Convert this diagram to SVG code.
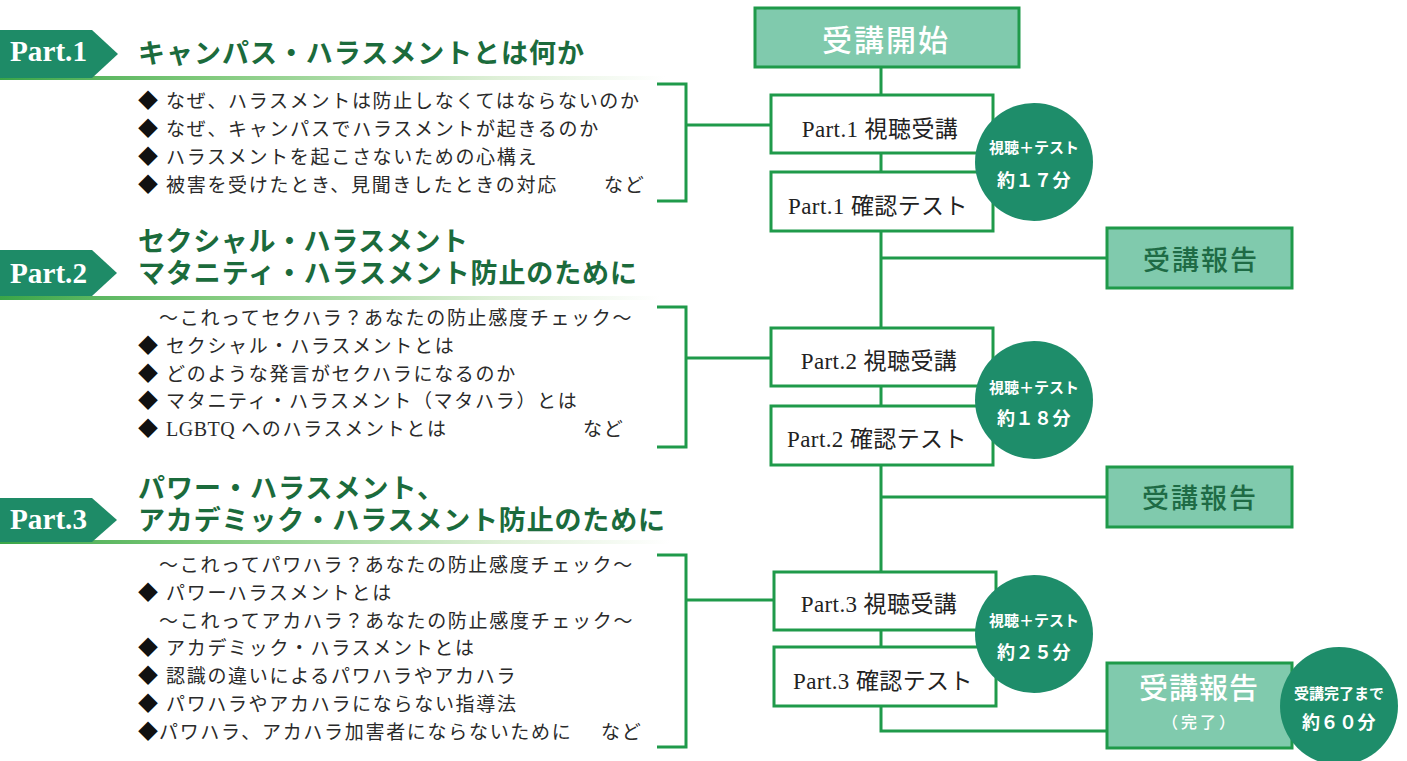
<svg xmlns="http://www.w3.org/2000/svg" width="1407" height="761" viewBox="0 0 1407 761">
<defs>
<linearGradient id="uline" x1="0" y1="0" x2="1" y2="0">
<stop offset="0" stop-color="#3aa548"/>
<stop offset="0.3" stop-color="#7ec97a"/>
<stop offset="0.75" stop-color="#dff0d8"/>
<stop offset="1" stop-color="#ffffff"/>
</linearGradient>
</defs>
<style>
.lbl{fill:#1e8b67}
.lbltx{font-family:"Liberation Serif",serif;font-weight:700;font-size:30px;fill:#fff}
.hd{font-family:"Noto Sans CJK JP",sans-serif;font-weight:700;font-size:27px;fill:#1b6b3c}
.li{font-family:"Noto Sans CJK JP",sans-serif;font-weight:400;font-size:19px;fill:#2a2a2a;letter-spacing:1.7px}
.lat{font-family:"Liberation Serif",serif;font-size:20px;letter-spacing:0.5px}
.dm{font-family:"Noto Sans CJK JP",sans-serif;font-size:20px;fill:#111}
.conn{fill:none;stroke:#1f9a4a;stroke-width:3}
.wbox{fill:#fff;stroke:#1f9a4a;stroke-width:3}
.gbox{fill:#80caad;stroke:#1f9a4a;stroke-width:3}
.btx{font-family:"Liberation Serif","Noto Sans CJK JP",serif;font-size:23px;fill:#222;text-anchor:middle;letter-spacing:0.4px}
.circ{fill:#1e8d6a}
.ct1{font-family:"Noto Sans CJK JP",sans-serif;font-weight:700;font-size:15px;fill:#fff;text-anchor:middle}
.ct2{font-family:"Noto Sans CJK JP",sans-serif;font-weight:700;font-size:18px;fill:#fff;text-anchor:middle;letter-spacing:0.5px}
.gtx{font-family:"Noto Sans CJK JP",sans-serif;font-weight:500;text-anchor:middle}
</style>

<!-- Section headers -->
<g id="part1-header">
<rect x="0" y="76" width="665" height="4" fill="url(#uline)"/>
<polygon class="lbl" points="0,30 92,30 118,54 92,78 0,78"/>
<text class="lbltx" x="10" y="61" textLength="77" lengthAdjust="spacingAndGlyphs">Part.1</text>
<text class="hd" x="138" y="63" textLength="446">キャンパス・ハラスメントとは何か</text>
</g>
<g id="part1-list">
<text class="dm" x="138" y="108">◆</text><text class="li" x="166" y="108">なぜ、ハラスメントは防止しなくてはならないのか</text>
<text class="dm" x="138" y="136">◆</text><text class="li" x="166" y="136">なぜ、キャンパスでハラスメントが起きるのか</text>
<text class="dm" x="138" y="164">◆</text><text class="li" x="166" y="164">ハラスメントを起こさないための心構え</text>
<text class="dm" x="138" y="192">◆</text><text class="li" x="166" y="192">被害を受けたとき、見聞きしたときの対応</text>
<text class="li" x="604" y="192">など</text>
</g>

<g id="part2-header">
<rect x="0" y="296" width="660" height="4" fill="url(#uline)"/>
<polygon class="lbl" points="0,250 92,250 117,273 92,296 0,296"/>
<text class="lbltx" x="10" y="283" textLength="77" lengthAdjust="spacingAndGlyphs">Part.2</text>
<text class="hd"><tspan x="138" y="251" textLength="330">セクシャル・ハラスメント</tspan><tspan x="138" y="283" textLength="499">マタニティ・ハラスメント防止のために</tspan></text>
</g>
<g id="part2-list">
<text class="li" x="159" y="325">〜これってセクハラ？あなたの防止感度チェック〜</text>
<text class="dm" x="138" y="353">◆</text><text class="li" x="166" y="353">セクシャル・ハラスメントとは</text>
<text class="dm" x="138" y="381">◆</text><text class="li" x="166" y="381">どのような発言がセクハラになるのか</text>
<text class="dm" x="138" y="408">◆</text><text class="li" x="166" y="408">マタニティ・ハラスメント（マタハラ）とは</text>
<text class="dm" x="138" y="436">◆</text><text class="li" x="166" y="436"><tspan class="lat">LGBTQ</tspan> へのハラスメントとは</text>
<text class="li" x="583" y="436">など</text>
</g>

<g id="part3-header">
<rect x="0" y="540" width="670" height="4" fill="url(#uline)"/>
<polygon class="lbl" points="0,498 92,498 117,520 92,542 0,542"/>
<text class="lbltx" x="10" y="529" textLength="77" lengthAdjust="spacingAndGlyphs">Part.3</text>
<text class="hd"><tspan x="138" y="498" textLength="306">パワー・ハラスメント、</tspan><tspan x="138" y="530" textLength="527">アカデミック・ハラスメント防止のために</tspan></text>
</g>
<g id="part3-list">
<text class="li" x="159" y="572">〜これってパワハラ？あなたの防止感度チェック〜</text>
<text class="dm" x="138" y="600">◆</text><text class="li" x="166" y="600">パワーハラスメントとは</text>
<text class="li" x="159" y="628">〜これってアカハラ？あなたの防止感度チェック〜</text>
<text class="dm" x="138" y="655">◆</text><text class="li" x="166" y="655">アカデミック・ハラスメントとは</text>
<text class="dm" x="138" y="683">◆</text><text class="li" x="166" y="683">認識の違いによるパワハラやアカハラ</text>
<text class="dm" x="138" y="711">◆</text><text class="li" x="166" y="711">パワハラやアカハラにならない指導法</text>
<text class="dm" x="138" y="739">◆</text><text class="li" x="159" y="739">パワハラ、アカハラ加害者にならないために</text>
<text class="li" x="601" y="739">など</text>
</g>

<!-- Connectors -->
<g id="connectors">
<path class="conn" d="M657 84 H686 V201 H657 M686 125 H771"/>
<path class="conn" d="M657 307 H686 V447 H657 M686 358 H771"/>
<path class="conn" d="M657 555 H686 V747 H657 M686 600 H774"/>
<path class="conn" d="M881 67 V95 M881 153 V172 M881 231 V328 M881 258 H1107 M881 386 V406 M881 465 V572 M881 497 H1107 M881 630 V647 M881 706 V731 H1107"/>
</g>

<!-- Flow nodes -->
<g id="start">
<rect class="gbox" x="755" y="8" width="264" height="59"/>
<text class="gtx" x="886" y="51" font-size="30" fill="#fff" letter-spacing="2">受講開始</text>
</g>
<g id="p1-view">
<rect class="wbox" x="771" y="95" width="222" height="58"/>
<text class="btx" x="880" y="137">Part.1 視聴受講</text>
</g>
<g id="p1-test">
<rect class="wbox" x="771" y="172" width="222" height="59"/>
<text class="btx" x="878" y="214">Part.1 確認テスト</text>
</g>
<g id="report1">
<rect class="gbox" x="1107" y="228" width="185" height="60"/>
<text class="gtx" x="1201" y="270" font-size="27" fill="#1e6b45" letter-spacing="2">受講報告</text>
</g>
<g id="p2-view">
<rect class="wbox" x="771" y="328" width="222" height="58"/>
<text class="btx" x="879" y="369">Part.2 視聴受講</text>
</g>
<g id="p2-test">
<rect class="wbox" x="771" y="406" width="222" height="59"/>
<text class="btx" x="877" y="447">Part.2 確認テスト</text>
</g>
<g id="report2">
<rect class="gbox" x="1107" y="467" width="185" height="60"/>
<text class="gtx" x="1200" y="508" font-size="27" fill="#1e6b45" letter-spacing="2">受講報告</text>
</g>
<g id="p3-view">
<rect class="wbox" x="774" y="572" width="222" height="58"/>
<text class="btx" x="879" y="612">Part.3 視聴受講</text>
</g>
<g id="p3-test">
<rect class="wbox" x="774" y="647" width="222" height="59"/>
<text class="btx" x="883" y="689">Part.3 確認テスト</text>
</g>
<g id="report3">
<rect class="gbox" x="1107" y="663" width="185" height="85"/>
<text class="gtx" x="1199" y="699" font-size="29" fill="#fff" letter-spacing="1">受講報告</text>
<text class="gtx" x="1200" y="728" font-size="16" fill="#fff" letter-spacing="3">（完了）</text>
</g>

<g id="time1">
<circle class="circ" cx="1034" cy="162" r="59"/>
<text class="ct1" x="1034" y="153">視聴＋テスト</text>
<text class="ct2" x="1034" y="187">約１７分</text>
</g>
<g id="time2">
<circle class="circ" cx="1034" cy="400" r="59"/>
<text class="ct1" x="1034" y="393">視聴＋テスト</text>
<text class="ct2" x="1034" y="425">約１８分</text>
</g>
<g id="time3">
<circle class="circ" cx="1034" cy="634" r="59"/>
<text class="ct1" x="1034" y="626">視聴＋テスト</text>
<text class="ct2" x="1034" y="659">約２５分</text>
</g>
<g id="time-total">
<circle class="circ" cx="1339" cy="706" r="59"/>
<text class="ct1" x="1339" y="699">受講完了まで</text>
<text class="ct2" x="1339" y="729">約６０分</text>
</g>
</svg>
